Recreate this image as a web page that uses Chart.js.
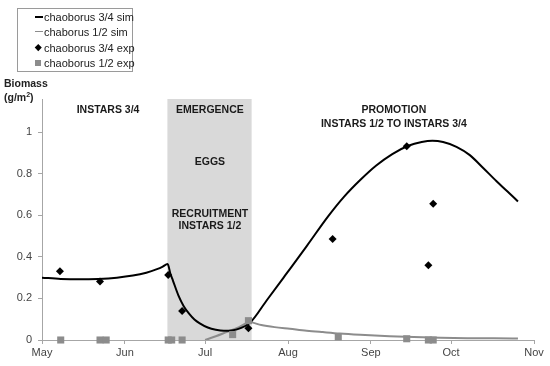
<!DOCTYPE html>
<html>
<head>
<meta charset="utf-8">
<script src="https://cdn.jsdelivr.net/npm/chart.js@4.4.1/dist/chart.umd.min.js"></script>
<style>
  html, body { margin: 0; padding: 0; background: #fff; }
  #wrap { position: relative; width: 550px; height: 366px; font-family: "Liberation Sans", Arial, sans-serif; }
  #legend { position: absolute; left: 17px; top: 8px; width: 114px; height: 62px; border: 1px solid #9a9a9a; background: #fff; font-size: 11px; color: #222; }
  .item { position: absolute; left: 0; height: 14px; line-height: 14px; }
  .item span.t { position: absolute; left: 26px; white-space: nowrap; }
  .sym { position: absolute; }
  #ytitle { position: absolute; left: 4px; top: 76px; font-size: 10.5px; font-weight: bold; color: #222; line-height: 14px; }
</style>
</head>
<body>
<div id="wrap">
  <canvas id="chart" width="550" height="366"></canvas>
  <div id="legend"></div>
  <div id="ytitle">Biomass<br>(g/m<sup style="font-size:7px;line-height:0">2</sup>)</div>
</div>
<script>
// days of year; May 1 = 121 ... Nov 1 = 305
const monthDays = [121, 152, 182, 213, 244, 274, 305];
const monthLabels = ["May", "Jun", "Jul", "Aug", "Sep", "Oct", "Nov"];
const yTicks = [0, 0.2, 0.4, 0.6, 0.8, 1];

const sim34Days = [121, 128, 135, 142, 149, 155, 160, 164, 166, 168, 169, 170, 172, 174, 176, 178, 180, 183, 186, 189, 192, 195, 198.8,
  205, 212, 220, 228, 234, 240, 246, 252, 258, 263, 267, 271, 276, 281, 286, 291, 295, 299];
const sim34Vals = [0.300, 0.294, 0.292, 0.294, 0.300, 0.310, 0.324, 0.341, 0.352, 0.366, 0.320, 0.285, 0.215, 0.163, 0.127, 0.099, 0.080, 0.060, 0.049, 0.044, 0.046, 0.056, 0.083,
  0.190, 0.312, 0.452, 0.595, 0.690, 0.770, 0.840, 0.895, 0.935, 0.953, 0.959, 0.953, 0.930, 0.890, 0.828, 0.764, 0.716, 0.667];

const sim12Days = [182, 186, 190, 194, 198.8, 203, 208, 213.7, 220, 226, 232.4, 240, 251, 260, 270, 280, 290, 299];
const sim12Vals = [0, 0.018, 0.038, 0.058, 0.085, 0.072, 0.062, 0.054, 0.045, 0.038, 0.031, 0.025, 0.018, 0.014, 0.011, 0.009, 0.008, 0.007];

const exp34Days = [127.7, 142.7, 168.2, 173.4, 198.2, 229.7, 257.4, 265.5, 267.3];
const exp34Vals = [0.331, 0.281, 0.313, 0.139, 0.057, 0.486, 0.932, 0.360, 0.656];

const exp12Days = [128, 142.7, 145, 168.2, 169.5, 173.4, 192.3, 198.2, 231.8, 257.4, 265.5, 267.3];
const exp12Vals = [0, 0, 0, 0, 0, 0, 0.026, 0.093, 0.015, 0.006, 0, 0];

const shadeRange = [167.9, 199.4];

const notes = [
  { text: "INSTARS 3/4", x: 145.7, y: 1.105 },
  { text: "EMERGENCE", x: 183.8, y: 1.105 },
  { text: "EGGS", x: 183.8, y: 0.855 },
  { text: "RECRUITMENT", x: 183.8, y: 0.604 },
  { text: "INSTARS 1/2", x: 183.8, y: 0.546 },
  { text: "PROMOTION", x: 252.6, y: 1.105 },
  { text: "INSTARS 1/2 TO INSTARS 3/4", x: 252.6, y: 1.038 }
];

const pts = (xs, ys) => xs.map((x, i) => ({ x: x, y: ys[i] }));

const axisGray = "#a6a6a6";
const simGray = "#8c8c8c";

const shadePlugin = {
  id: "shade",
  beforeDatasetsDraw(chart) {
    const { ctx, chartArea, scales } = chart;
    const x0 = scales.x.getPixelForValue(shadeRange[0]);
    const x1 = scales.x.getPixelForValue(shadeRange[1]);
    ctx.save();
    ctx.fillStyle = "#d9d9d9";
    ctx.fillRect(x0, chartArea.top, x1 - x0, chartArea.bottom - chartArea.top);
    ctx.font = "bold 10.5px 'Liberation Sans', Arial, sans-serif";
    ctx.fillStyle = "#1a1a1a";
    ctx.textAlign = "center";
    ctx.textBaseline = "middle";
    notes.forEach(n => {
      ctx.fillText(n.text, scales.x.getPixelForValue(n.x), scales.y.getPixelForValue(n.y));
    });
    ctx.restore();
  }
};

const datasets = [
  { label: "chaoborus 3/4 sim", data: pts(sim34Days, sim34Vals), type: "line", borderColor: "#000", borderWidth: 2,
    pointRadius: 0, cubicInterpolationMode: "monotone", order: 3, legend: "line" },
  { label: "chaborus 1/2 sim", data: pts(sim12Days, sim12Vals), type: "line", borderColor: simGray, borderWidth: 2,
    pointRadius: 0, cubicInterpolationMode: "monotone", order: 4, legend: "thin" },
  { label: "chaoborus 3/4 exp", data: pts(exp34Days, exp34Vals), type: "scatter", pointStyle: "rectRot",
    pointRadius: 4, backgroundColor: "#000", borderColor: "#000", borderWidth: 0, order: 1, clip: false, legend: "diamond" },
  { label: "chaoborus 1/2 exp", data: pts(exp12Days, exp12Vals), type: "scatter", pointStyle: "rect",
    pointRadius: 5, backgroundColor: "#8c8c8c", borderColor: "#8c8c8c", borderWidth: 0, order: 2, clip: false, legend: "square" }
];

new Chart(document.getElementById("chart"), {
  type: "scatter",
  data: { datasets: datasets },
  options: {
    responsive: false,
    animation: false,
    layout: { padding: { left: 0, right: 16, top: 99, bottom: 0 } },
    plugins: { legend: { display: false }, tooltip: { enabled: false } },
    scales: {
      x: {
        type: "linear", min: 121, max: 305,
        afterBuildTicks: s => { s.ticks = monthDays.map(v => ({ value: v })); },
        afterFit: s => { s.height = 26; },
        ticks: { callback: (v) => monthLabels[monthDays.indexOf(v)], color: "#444",
          font: { family: "'Liberation Sans', Arial, sans-serif", size: 11 }, padding: 2, maxRotation: 0 },
        grid: { drawOnChartArea: false, drawTicks: true, tickLength: 4, color: axisGray },
        border: { color: axisGray, width: 1 }
      },
      y: {
        min: 0, max: 1.16,
        afterBuildTicks: s => { s.ticks = yTicks.map(v => ({ value: v })); },
        afterFit: s => { s.width = 42; },
        ticks: { callback: v => String(v), color: "#444",
          font: { family: "'Liberation Sans', Arial, sans-serif", size: 11 }, padding: 6 },
        grid: { drawOnChartArea: false, drawTicks: true, tickLength: 4, color: axisGray },
        border: { color: axisGray, width: 1 }
      }
    }
  },
  plugins: [shadePlugin]
});

// legend built from the datasets
const legend = document.getElementById("legend");
datasets.forEach((d, i) => {
  const item = document.createElement("div");
  item.className = "item";
  item.style.top = (1 + i * 15.3) + "px";
  const sym = document.createElement("div");
  sym.className = "sym";
  if (d.legend === "line" || d.legend === "thin") {
    Object.assign(sym.style, { left: "17px", top: "6px", width: "8px", height: "0px",
      borderTop: (d.legend === "line" ? "2.5px solid #000" : "1.5px solid " + simGray) });
  } else if (d.legend === "diamond") {
    Object.assign(sym.style, { left: "18px", top: "4px", width: "4.5px", height: "4.5px", background: "#000", transform: "rotate(45deg)" });
  } else {
    Object.assign(sym.style, { left: "17px", top: "4px", width: "6px", height: "6px", background: "#8c8c8c" });
  }
  const t = document.createElement("span");
  t.className = "t";
  t.textContent = d.label;
  item.appendChild(sym);
  item.appendChild(t);
  legend.appendChild(item);
});
</script>
</body>
</html>
